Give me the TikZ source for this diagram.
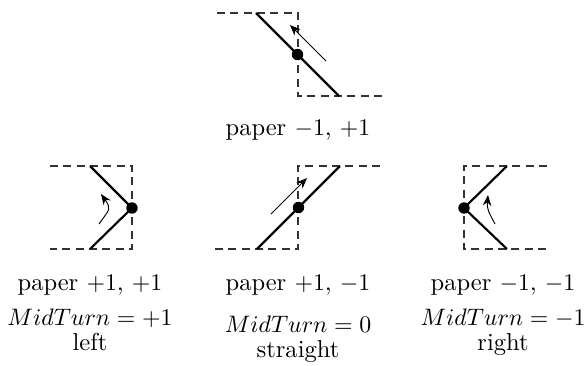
\documentclass[tikz,border=0pt]{standalone}
\usetikzlibrary{arrows.meta}
\begin{document}
\begin{tikzpicture}[x=0.42pt,y=-0.42pt,
  dashln/.style={dashed,dash pattern=on 3.4pt off 2.2pt,line width=0.45pt,black!80},
  solidln/.style={line width=0.9pt},
  dotnd/.style={circle,fill=black,inner sep=0pt,minimum size=4.8pt},
  arr/.style={line width=0.4pt,-{Stealth[length=4.5pt,width=3.6pt]}},
  lbl/.style={anchor=base,inner sep=0pt,font=\fontsize{10.3}{12}\selectfont}]
\useasboundingbox (0,0) rectangle (587,365);
% top
\coordinate (t1) at (217,13); \coordinate (t2) at (298,13);
\coordinate (t3) at (298,96); \coordinate (t4) at (382,96);
\coordinate (ta) at (256,13); \coordinate (tb) at (339,96);
\draw[dashln] (t1) -- (t2) -- (t3) -- (t4);
\draw[solidln] (ta) -- (tb);
\node[dotnd] (td) at (297.5,54.5) {};
\coordinate (tas) at (326,61); \coordinate (tae) at (290,25);
\draw[arr] (tas) -- (tae);
\node[lbl] (tl) at (298,135) {paper $-1$, $+1$};
% bottom left
\coordinate (l1) at (50,166); \coordinate (l2) at (132,166);
\coordinate (l3) at (132,249); \coordinate (l4) at (50,249);
\coordinate (la) at (90,166); \coordinate (lb) at (90,249);
\draw[dashln] (l1) -- (l2) -- (l3) -- (l4);
\node[dotnd] (ld) at (132,208) {};
\draw[solidln] (la) -- (ld.center) -- (lb);
\coordinate (las) at (99,224); \coordinate (lae) at (101,194);
\draw[arr] (las) to[out=55,in=-55,looseness=1.6] (lae);
\node[lbl] (ll1) at (90,290) {paper $+1$, $+1$};
\node[lbl] (ll2) at (90,325) {$MidTurn = +1$};
\node[lbl] (ll3) at (90,350) {left};
% bottom middle
\coordinate (m1) at (215,249); \coordinate (m2) at (298,249);
\coordinate (m3) at (298,166); \coordinate (m4) at (380,166);
\coordinate (ma) at (257,249); \coordinate (mb) at (340,166);
\draw[dashln] (m1) -- (m2) -- (m3) -- (m4);
\draw[solidln] (ma) -- (mb);
\node[dotnd] (md) at (298.5,207.5) {};
\coordinate (mas) at (271,214); \coordinate (mae) at (307,178);
\draw[arr] (mas) -- (mae);
\node[lbl] (ml1) at (298,290) {paper $+1$, $-1$};
\node[lbl] (ml2) at (298,332) {$MidTurn = 0$};
\node[lbl] (ml3) at (298,357) {straight};
% bottom right
\coordinate (r1) at (547,166); \coordinate (r2) at (464,166);
\coordinate (r3) at (464,249); \coordinate (r4) at (547,249);
\coordinate (ra) at (507,166); \coordinate (rb) at (507,249);
\draw[dashln] (r1) -- (r2) -- (r3) -- (r4);
\node[dotnd] (rd) at (464,208) {};
\draw[solidln] (ra) -- (rd.center) -- (rb);
\coordinate (ras) at (495,224); \coordinate (rae) at (488,195);
\draw[arr] (ras) to[out=118,in=-95,looseness=1.2] (rae);
\node[lbl] (rl1) at (503,290) {paper $-1$, $-1$};
\node[lbl] (rl2) at (503,325) {$MidTurn = -1$};
\node[lbl] (rl3) at (503,350) {right};
\end{tikzpicture}
\end{document}
